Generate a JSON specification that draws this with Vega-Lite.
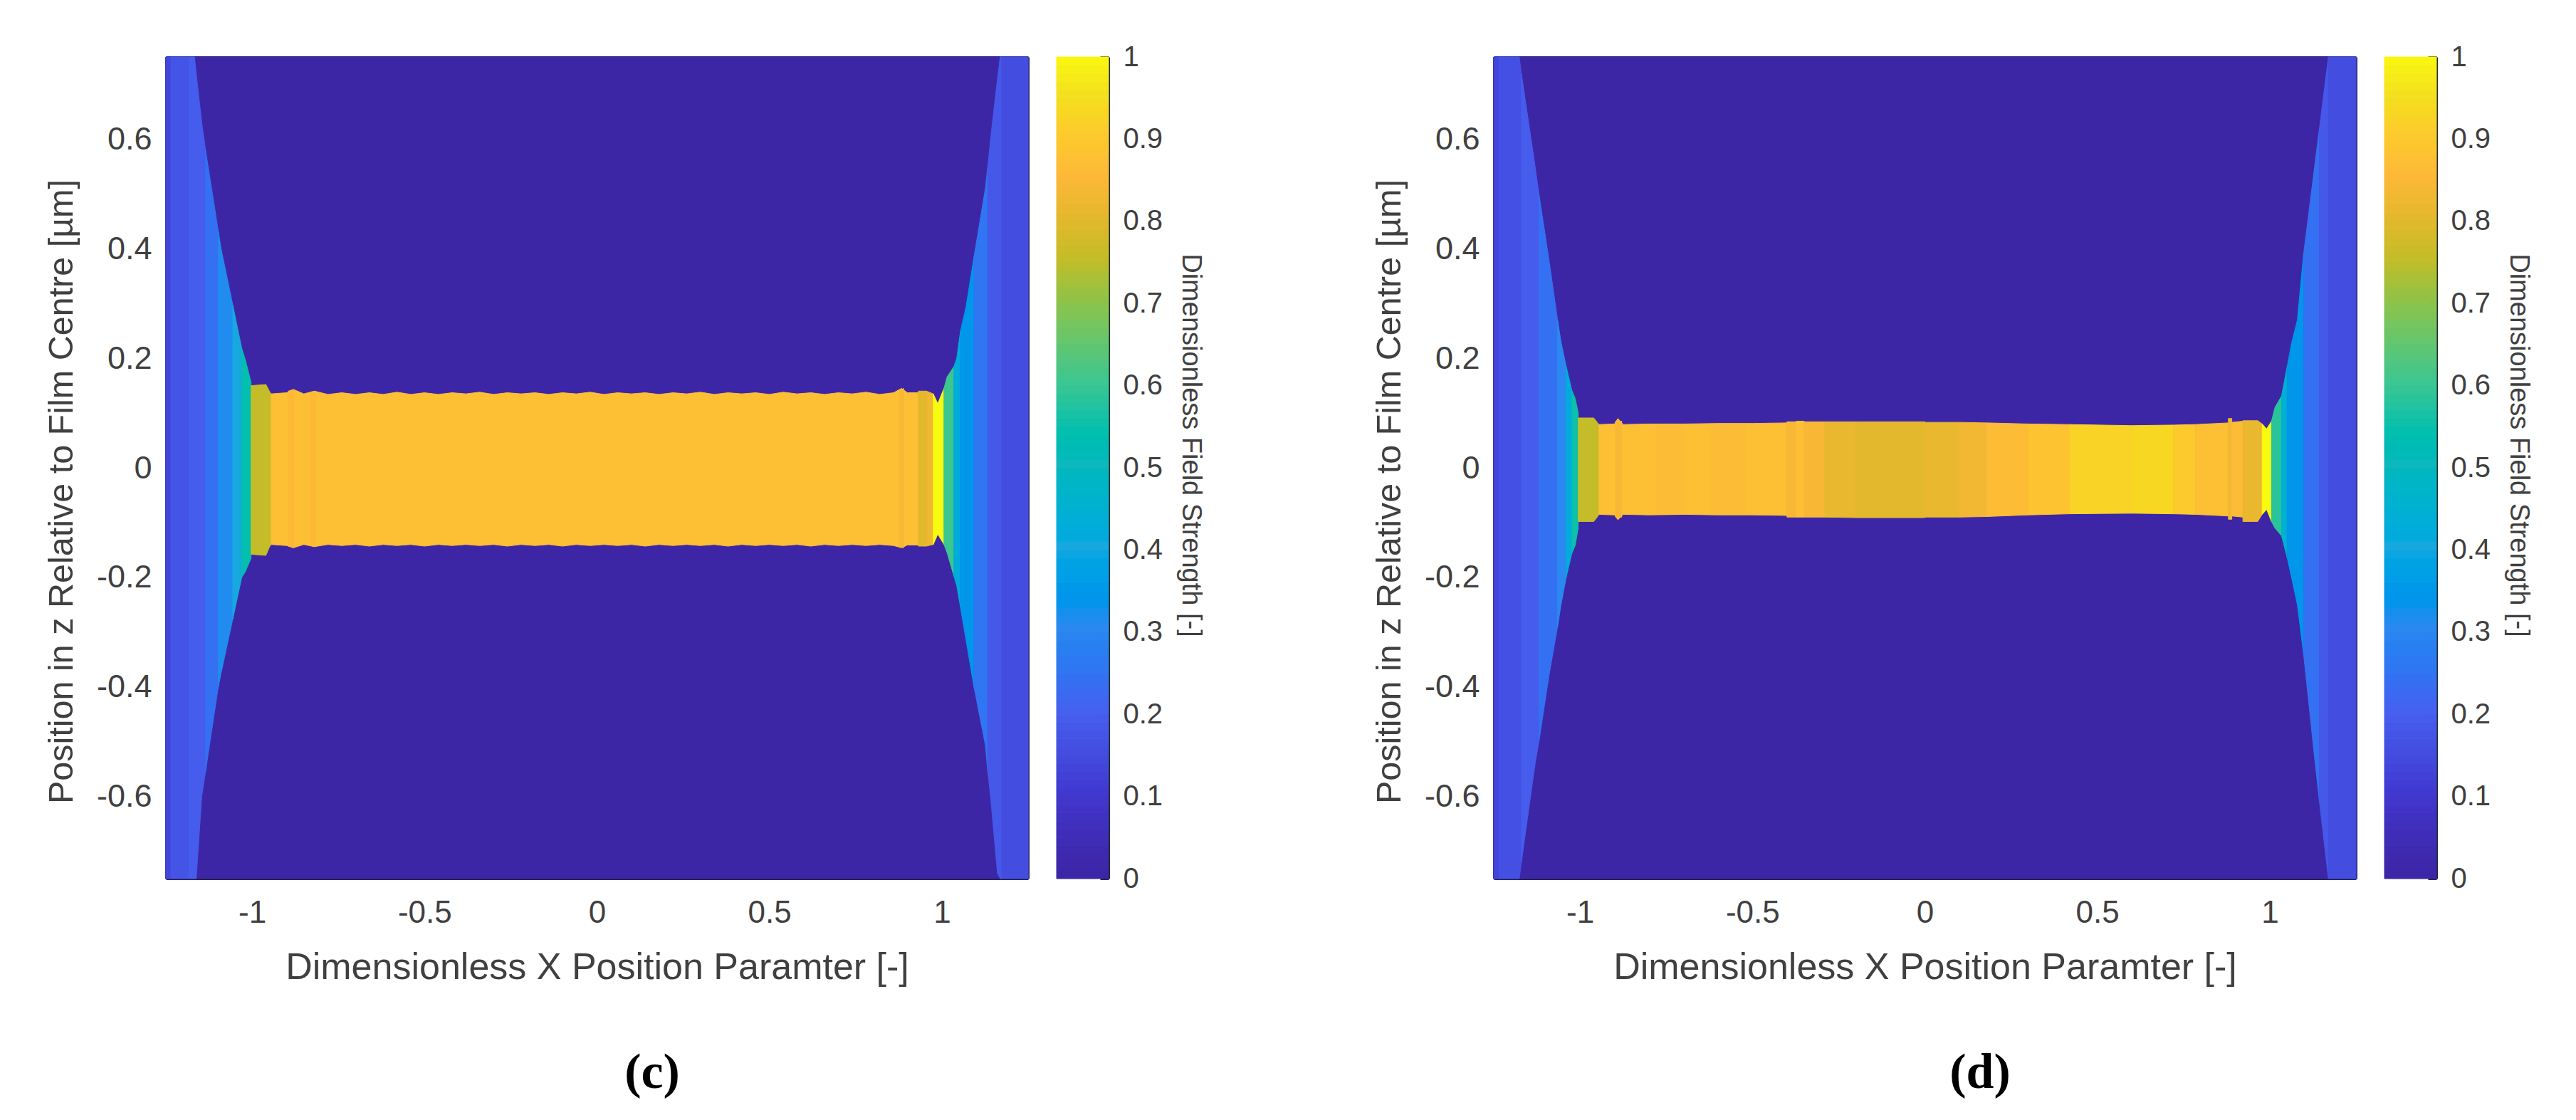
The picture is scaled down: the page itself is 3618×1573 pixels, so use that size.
{"$schema":"https://vega.github.io/schema/vega-lite/v6.json","background":"white","padding":{"left":62,"top":60,"right":10,"bottom":10},"autosize":{"type":"pad"},"config":{"view":{"stroke":null},"font":"Liberation Sans","axis":{"grid":false,"labelFont":"Liberation Sans","titleFont":"Liberation Sans","labelColor":"#404040","titleColor":"#404040","titleFontWeight":"normal","tickColor":"#26234f","domainColor":"#26234f","domainWidth":3,"tickWidth":3,"zindex":1}},
"datasets":{
"c":[
{"b":0,"x":-1.25,"lo":-0.75,"hi":0.75,"v":0.0},{"b":0,"x":1.25,"lo":-0.75,"hi":0.75,"v":0.0},
{"b":1,"x":-1.25,"lo":-0.75,"hi":0.75,"v":0.13},{"b":1,"x":-1.236,"lo":-0.75,"hi":0.75,"v":0.13},
{"b":2,"x":-1.236,"lo":-0.75,"hi":0.75,"v":0.17},{"b":2,"x":-1.183,"lo":-0.75,"hi":0.75,"v":0.17},
{"b":3,"x":-1.183,"lo":-0.75,"hi":0.75,"v":0.19},{"b":3,"x":-1.167,"lo":-0.75,"hi":0.75,"v":0.19},{"b":3,"x":-1.162,"lo":-0.75,"hi":0.72,"v":0.19},{"b":3,"x":-1.146,"lo":-0.6,"hi":0.63,"v":0.19},{"b":3,"x":-1.135,"lo":-0.554,"hi":0.58,"v":0.19},
{"b":4,"x":-1.135,"lo":-0.554,"hi":0.58,"v":0.24},{"b":4,"x":-1.098,"lo":-0.4,"hi":0.432,"v":0.24},
{"b":5,"x":-1.098,"lo":-0.4,"hi":0.432,"v":0.31},{"b":5,"x":-1.09,"lo":-0.375,"hi":0.4,"v":0.31},{"b":5,"x":-1.056,"lo":-0.276,"hi":0.297,"v":0.31},
{"b":6,"x":-1.056,"lo":-0.276,"hi":0.297,"v":0.4},{"b":6,"x":-1.03,"lo":-0.2,"hi":0.218,"v":0.4},
{"b":7,"x":-1.03,"lo":-0.2,"hi":0.218,"v":0.54},{"b":7,"x":-1.02,"lo":-0.19,"hi":0.198,"v":0.54},{"b":7,"x":-1.003,"lo":-0.165,"hi":0.156,"v":0.54},
{"b":8,"x":-1.003,"lo":-0.158,"hi":0.15,"v":0.75},{"b":8,"x":-0.96,"lo":-0.16,"hi":0.152,"v":0.75},{"b":8,"x":-0.95,"lo":-0.145,"hi":0.14,"v":0.75},{"b":8,"x":-0.945,"lo":-0.14,"hi":0.135,"v":0.75},
{"b":9,"x":-0.945,"lo":-0.14,"hi":0.135,"v":0.87},{"b":9,"x":-0.9,"lo":-0.142,"hi":0.137,"v":0.87},{"b":9,"x":-0.88,"lo":-0.146,"hi":0.143,"v":0.87},{"b":9,"x":-0.85,"lo":-0.14,"hi":0.135,"v":0.87},{"b":9,"x":-0.82,"lo":-0.144,"hi":0.14,"v":0.87},{"b":9,"x":-0.78,"lo":-0.14,"hi":0.134,"v":0.87},{"b":9,"x":-0.74,"lo":-0.142,"hi":0.137,"v":0.87},{"b":9,"x":-0.7,"lo":-0.14,"hi":0.134,"v":0.87},{"b":9,"x":-0.66,"lo":-0.143,"hi":0.137,"v":0.87},{"b":9,"x":-0.62,"lo":-0.14,"hi":0.134,"v":0.87},{"b":9,"x":-0.58,"lo":-0.142,"hi":0.138,"v":0.87},{"b":9,"x":-0.54,"lo":-0.14,"hi":0.134,"v":0.87},{"b":9,"x":-0.5,"lo":-0.143,"hi":0.137,"v":0.87},{"b":9,"x":-0.46,"lo":-0.14,"hi":0.134,"v":0.87},{"b":9,"x":-0.42,"lo":-0.142,"hi":0.137,"v":0.87},{"b":9,"x":-0.38,"lo":-0.14,"hi":0.135,"v":0.87},{"b":9,"x":-0.34,"lo":-0.142,"hi":0.138,"v":0.87},{"b":9,"x":-0.3,"lo":-0.14,"hi":0.134,"v":0.87},{"b":9,"x":-0.26,"lo":-0.143,"hi":0.137,"v":0.87},{"b":9,"x":-0.22,"lo":-0.14,"hi":0.135,"v":0.87},{"b":9,"x":-0.18,"lo":-0.142,"hi":0.137,"v":0.87},{"b":9,"x":-0.14,"lo":-0.14,"hi":0.134,"v":0.87},{"b":9,"x":-0.1,"lo":-0.143,"hi":0.137,"v":0.87},{"b":9,"x":-0.06,"lo":-0.14,"hi":0.135,"v":0.87},{"b":9,"x":-0.02,"lo":-0.142,"hi":0.138,"v":0.87},{"b":9,"x":0.02,"lo":-0.14,"hi":0.134,"v":0.87},{"b":9,"x":0.06,"lo":-0.142,"hi":0.137,"v":0.87},{"b":9,"x":0.1,"lo":-0.14,"hi":0.135,"v":0.87},{"b":9,"x":0.14,"lo":-0.143,"hi":0.137,"v":0.87},{"b":9,"x":0.18,"lo":-0.14,"hi":0.134,"v":0.87},{"b":9,"x":0.22,"lo":-0.142,"hi":0.137,"v":0.87},{"b":9,"x":0.26,"lo":-0.14,"hi":0.135,"v":0.87},{"b":9,"x":0.3,"lo":-0.142,"hi":0.138,"v":0.87},{"b":9,"x":0.34,"lo":-0.14,"hi":0.134,"v":0.87},{"b":9,"x":0.38,"lo":-0.143,"hi":0.137,"v":0.87},{"b":9,"x":0.42,"lo":-0.14,"hi":0.135,"v":0.87},{"b":9,"x":0.46,"lo":-0.142,"hi":0.137,"v":0.87},{"b":9,"x":0.5,"lo":-0.14,"hi":0.134,"v":0.87},{"b":9,"x":0.54,"lo":-0.142,"hi":0.138,"v":0.87},{"b":9,"x":0.58,"lo":-0.14,"hi":0.135,"v":0.87},{"b":9,"x":0.62,"lo":-0.143,"hi":0.137,"v":0.87},{"b":9,"x":0.66,"lo":-0.14,"hi":0.134,"v":0.87},{"b":9,"x":0.7,"lo":-0.142,"hi":0.137,"v":0.87},{"b":9,"x":0.74,"lo":-0.14,"hi":0.135,"v":0.87},{"b":9,"x":0.78,"lo":-0.142,"hi":0.138,"v":0.87},{"b":9,"x":0.82,"lo":-0.14,"hi":0.134,"v":0.87},{"b":9,"x":0.86,"lo":-0.142,"hi":0.137,"v":0.87},{"b":9,"x":0.883,"lo":-0.146,"hi":0.145,"v":0.87},{"b":9,"x":0.9,"lo":-0.141,"hi":0.137,"v":0.87},{"b":9,"x":0.932,"lo":-0.141,"hi":0.137,"v":0.87},
{"b":10,"x":-0.895,"lo":-0.143,"hi":0.14,"v":0.85},{"b":10,"x":-0.88,"lo":-0.146,"hi":0.143,"v":0.85},
{"b":11,"x":-0.83,"lo":-0.142,"hi":0.137,"v":0.85},{"b":11,"x":-0.815,"lo":-0.144,"hi":0.14,"v":0.85},
{"b":12,"x":0.877,"lo":-0.144,"hi":0.14,"v":0.84},{"b":12,"x":0.889,"lo":-0.146,"hi":0.145,"v":0.84},
{"b":13,"x":0.932,"lo":-0.143,"hi":0.14,"v":0.8},{"b":13,"x":0.955,"lo":-0.143,"hi":0.14,"v":0.8},
{"b":14,"x":0.955,"lo":-0.143,"hi":0.14,"v":0.82},{"b":14,"x":0.975,"lo":-0.14,"hi":0.135,"v":0.82},
{"b":15,"x":0.975,"lo":-0.14,"hi":0.135,"v":1.0},{"b":15,"x":0.988,"lo":-0.121,"hi":0.117,"v":1.0},{"b":15,"x":1.006,"lo":-0.14,"hi":0.145,"v":1.0},
{"b":16,"x":1.006,"lo":-0.14,"hi":0.145,"v":0.6},{"b":16,"x":1.015,"lo":-0.155,"hi":0.166,"v":0.6},{"b":16,"x":1.035,"lo":-0.198,"hi":0.185,"v":0.6},
{"b":17,"x":1.035,"lo":-0.198,"hi":0.185,"v":0.42},{"b":17,"x":1.043,"lo":-0.215,"hi":0.2,"v":0.42},{"b":17,"x":1.054,"lo":-0.255,"hi":0.25,"v":0.42},
{"b":18,"x":1.054,"lo":-0.255,"hi":0.25,"v":0.34},{"b":18,"x":1.063,"lo":-0.289,"hi":0.275,"v":0.34},{"b":18,"x":1.07,"lo":-0.315,"hi":0.294,"v":0.34},{"b":18,"x":1.093,"lo":-0.4,"hi":0.385,"v":0.34},
{"b":19,"x":1.093,"lo":-0.4,"hi":0.385,"v":0.25},{"b":19,"x":1.126,"lo":-0.506,"hi":0.51,"v":0.25},{"b":19,"x":1.133,"lo":-0.555,"hi":0.55,"v":0.25},
{"b":20,"x":1.133,"lo":-0.555,"hi":0.55,"v":0.18},{"b":20,"x":1.141,"lo":-0.6,"hi":0.6,"v":0.18},{"b":20,"x":1.161,"lo":-0.74,"hi":0.71,"v":0.18},{"b":20,"x":1.169,"lo":-0.75,"hi":0.75,"v":0.18},{"b":20,"x":1.174,"lo":-0.75,"hi":0.75,"v":0.18},
{"b":21,"x":1.174,"lo":-0.75,"hi":0.75,"v":0.15},{"b":21,"x":1.25,"lo":-0.75,"hi":0.75,"v":0.15}
],
"d":[
{"b":0,"x":-1.25,"lo":-0.75,"hi":0.75,"v":0.0},{"b":0,"x":1.25,"lo":-0.75,"hi":0.75,"v":0.0},
{"b":1,"x":-1.25,"lo":-0.75,"hi":0.75,"v":0.13},{"b":1,"x":-1.234,"lo":-0.75,"hi":0.75,"v":0.13},
{"b":2,"x":-1.234,"lo":-0.75,"hi":0.75,"v":0.16},{"b":2,"x":-1.176,"lo":-0.75,"hi":0.75,"v":0.16},{"b":2,"x":-1.17,"lo":-0.72,"hi":0.72,"v":0.16},
{"b":3,"x":-1.17,"lo":-0.72,"hi":0.72,"v":0.19},{"b":3,"x":-1.13,"lo":-0.54,"hi":0.55,"v":0.19},{"b":3,"x":-1.119,"lo":-0.5,"hi":0.5,"v":0.19},
{"b":4,"x":-1.119,"lo":-0.5,"hi":0.5,"v":0.24},{"b":4,"x":-1.09,"lo":-0.38,"hi":0.38,"v":0.24},{"b":4,"x":-1.065,"lo":-0.29,"hi":0.27,"v":0.24},
{"b":5,"x":-1.065,"lo":-0.29,"hi":0.27,"v":0.3},{"b":5,"x":-1.055,"lo":-0.25,"hi":0.23,"v":0.3},{"b":5,"x":-1.04,"lo":-0.2,"hi":0.185,"v":0.3},
{"b":6,"x":-1.04,"lo":-0.2,"hi":0.185,"v":0.42},{"b":6,"x":-1.023,"lo":-0.155,"hi":0.14,"v":0.42},
{"b":7,"x":-1.023,"lo":-0.155,"hi":0.14,"v":0.55},{"b":7,"x":-1.014,"lo":-0.142,"hi":0.127,"v":0.55},{"b":7,"x":-1.005,"lo":-0.11,"hi":0.1,"v":0.55},
{"b":8,"x":-1.005,"lo":-0.098,"hi":0.091,"v":0.75},{"b":8,"x":-0.96,"lo":-0.098,"hi":0.091,"v":0.75},{"b":8,"x":-0.95,"lo":-0.09,"hi":0.083,"v":0.75},{"b":8,"x":-0.945,"lo":-0.085,"hi":0.079,"v":0.75},
{"b":9,"x":-0.945,"lo":-0.085,"hi":0.079,"v":0.87},{"b":9,"x":-0.9,"lo":-0.086,"hi":0.08,"v":0.87},{"b":9,"x":-0.89,"lo":-0.095,"hi":0.09,"v":0.87},{"b":9,"x":-0.875,"lo":-0.085,"hi":0.079,"v":0.87},{"b":9,"x":-0.8,"lo":-0.086,"hi":0.08,"v":0.87},{"b":9,"x":-0.7,"lo":-0.085,"hi":0.08,"v":0.87},{"b":9,"x":-0.6,"lo":-0.086,"hi":0.081,"v":0.87},{"b":9,"x":-0.5,"lo":-0.086,"hi":0.081,"v":0.87},{"b":9,"x":-0.4,"lo":-0.087,"hi":0.082,"v":0.87},
{"b":10,"x":-0.78,"lo":-0.085,"hi":0.079,"v":0.86},{"b":10,"x":-0.7,"lo":-0.085,"hi":0.08,"v":0.86},
{"b":11,"x":-0.62,"lo":-0.085,"hi":0.08,"v":0.86},{"b":11,"x":-0.52,"lo":-0.085,"hi":0.08,"v":0.86},
{"b":12,"x":-0.897,"lo":-0.09,"hi":0.085,"v":0.84},{"b":12,"x":-0.879,"lo":-0.09,"hi":0.085,"v":0.84},
{"b":13,"x":-0.4,"lo":-0.09,"hi":0.084,"v":0.84},{"b":13,"x":-0.373,"lo":-0.09,"hi":0.084,"v":0.84},
{"b":14,"x":-0.373,"lo":-0.09,"hi":0.085,"v":0.87},{"b":14,"x":-0.35,"lo":-0.09,"hi":0.085,"v":0.87},
{"b":15,"x":-0.35,"lo":-0.09,"hi":0.084,"v":0.84},{"b":15,"x":-0.29,"lo":-0.09,"hi":0.084,"v":0.84},
{"b":16,"x":-0.29,"lo":-0.09,"hi":0.084,"v":0.81},{"b":16,"x":-0.2,"lo":-0.091,"hi":0.084,"v":0.81},
{"b":17,"x":-0.2,"lo":-0.091,"hi":0.084,"v":0.8},{"b":17,"x":0.0,"lo":-0.091,"hi":0.084,"v":0.8},
{"b":18,"x":0.0,"lo":-0.09,"hi":0.083,"v":0.81},{"b":18,"x":0.1,"lo":-0.09,"hi":0.083,"v":0.81},
{"b":19,"x":0.1,"lo":-0.09,"hi":0.083,"v":0.83},{"b":19,"x":0.18,"lo":-0.089,"hi":0.082,"v":0.83},
{"b":20,"x":0.18,"lo":-0.089,"hi":0.082,"v":0.86},{"b":20,"x":0.3,"lo":-0.086,"hi":0.08,"v":0.86},
{"b":21,"x":0.3,"lo":-0.086,"hi":0.08,"v":0.88},{"b":21,"x":0.42,"lo":-0.084,"hi":0.079,"v":0.88},
{"b":22,"x":0.42,"lo":-0.084,"hi":0.079,"v":0.92},{"b":22,"x":0.6,"lo":-0.083,"hi":0.077,"v":0.92},
{"b":23,"x":0.6,"lo":-0.083,"hi":0.077,"v":0.93},{"b":23,"x":0.72,"lo":-0.084,"hi":0.078,"v":0.93},
{"b":24,"x":0.72,"lo":-0.084,"hi":0.078,"v":0.9},{"b":24,"x":0.784,"lo":-0.085,"hi":0.079,"v":0.9},
{"b":25,"x":0.784,"lo":-0.085,"hi":0.079,"v":0.87},{"b":25,"x":0.88,"lo":-0.088,"hi":0.082,"v":0.87},
{"b":26,"x":0.88,"lo":-0.094,"hi":0.09,"v":0.82},{"b":26,"x":0.89,"lo":-0.094,"hi":0.09,"v":0.82},
{"b":27,"x":0.89,"lo":-0.088,"hi":0.083,"v":0.86},{"b":27,"x":0.922,"lo":-0.09,"hi":0.085,"v":0.86},
{"b":28,"x":0.922,"lo":-0.098,"hi":0.086,"v":0.81},{"b":28,"x":0.965,"lo":-0.098,"hi":0.086,"v":0.81},{"b":28,"x":0.978,"lo":-0.085,"hi":0.08,"v":0.81},
{"b":29,"x":0.978,"lo":-0.085,"hi":0.08,"v":1.0},{"b":29,"x":0.991,"lo":-0.076,"hi":0.071,"v":1.0},{"b":29,"x":1.005,"lo":-0.098,"hi":0.085,"v":1.0},
{"b":30,"x":1.005,"lo":-0.098,"hi":0.085,"v":0.58},{"b":30,"x":1.015,"lo":-0.11,"hi":0.11,"v":0.58},{"b":30,"x":1.034,"lo":-0.124,"hi":0.131,"v":0.58},
{"b":31,"x":1.034,"lo":-0.124,"hi":0.131,"v":0.45},{"b":31,"x":1.05,"lo":-0.163,"hi":0.183,"v":0.45},
{"b":32,"x":1.05,"lo":-0.163,"hi":0.183,"v":0.34},{"b":32,"x":1.063,"lo":-0.2,"hi":0.227,"v":0.34},{"b":32,"x":1.08,"lo":-0.25,"hi":0.27,"v":0.34},{"b":32,"x":1.098,"lo":-0.34,"hi":0.39,"v":0.34},
{"b":33,"x":1.098,"lo":-0.34,"hi":0.39,"v":0.24},{"b":33,"x":1.13,"lo":-0.53,"hi":0.55,"v":0.24},{"b":33,"x":1.144,"lo":-0.61,"hi":0.62,"v":0.24},
{"b":34,"x":1.144,"lo":-0.61,"hi":0.62,"v":0.18},{"b":34,"x":1.17,"lo":-0.75,"hi":0.75,"v":0.18},
{"b":35,"x":1.17,"lo":-0.75,"hi":0.75,"v":0.15},{"b":35,"x":1.25,"lo":-0.75,"hi":0.75,"v":0.15}
],
"bar":[
{"a":0.0,"b":0.01},{"a":0.01,"b":0.02},{"a":0.02,"b":0.03},{"a":0.03,"b":0.04},{"a":0.04,"b":0.05},{"a":0.05,"b":0.06},{"a":0.06,"b":0.07},{"a":0.07,"b":0.08},{"a":0.08,"b":0.09},{"a":0.09,"b":0.1},{"a":0.1,"b":0.11},{"a":0.11,"b":0.12},{"a":0.12,"b":0.13},{"a":0.13,"b":0.14},{"a":0.14,"b":0.15},{"a":0.15,"b":0.16},{"a":0.16,"b":0.17},{"a":0.17,"b":0.18},{"a":0.18,"b":0.19},{"a":0.19,"b":0.2},{"a":0.2,"b":0.21},{"a":0.21,"b":0.22},{"a":0.22,"b":0.23},{"a":0.23,"b":0.24},{"a":0.24,"b":0.25},{"a":0.25,"b":0.26},{"a":0.26,"b":0.27},{"a":0.27,"b":0.28},{"a":0.28,"b":0.29},{"a":0.29,"b":0.3},{"a":0.3,"b":0.31},{"a":0.31,"b":0.32},{"a":0.32,"b":0.33},{"a":0.33,"b":0.34},{"a":0.34,"b":0.35},{"a":0.35,"b":0.36},{"a":0.36,"b":0.37},{"a":0.37,"b":0.38},{"a":0.38,"b":0.39},{"a":0.39,"b":0.4},{"a":0.4,"b":0.41},{"a":0.41,"b":0.42},{"a":0.42,"b":0.43},{"a":0.43,"b":0.44},{"a":0.44,"b":0.45},{"a":0.45,"b":0.46},{"a":0.46,"b":0.47},{"a":0.47,"b":0.48},{"a":0.48,"b":0.49},{"a":0.49,"b":0.5},{"a":0.5,"b":0.51},{"a":0.51,"b":0.52},{"a":0.52,"b":0.53},{"a":0.53,"b":0.54},{"a":0.54,"b":0.55},{"a":0.55,"b":0.56},{"a":0.56,"b":0.57},{"a":0.57,"b":0.58},{"a":0.58,"b":0.59},{"a":0.59,"b":0.6},{"a":0.6,"b":0.61},{"a":0.61,"b":0.62},{"a":0.62,"b":0.63},{"a":0.63,"b":0.64},{"a":0.64,"b":0.65},{"a":0.65,"b":0.66},{"a":0.66,"b":0.67},{"a":0.67,"b":0.68},{"a":0.68,"b":0.69},{"a":0.69,"b":0.7},{"a":0.7,"b":0.71},{"a":0.71,"b":0.72},{"a":0.72,"b":0.73},{"a":0.73,"b":0.74},{"a":0.74,"b":0.75},{"a":0.75,"b":0.76},{"a":0.76,"b":0.77},{"a":0.77,"b":0.78},{"a":0.78,"b":0.79},{"a":0.79,"b":0.8},{"a":0.8,"b":0.81},{"a":0.81,"b":0.82},{"a":0.82,"b":0.83},{"a":0.83,"b":0.84},{"a":0.84,"b":0.85},{"a":0.85,"b":0.86},{"a":0.86,"b":0.87},{"a":0.87,"b":0.88},{"a":0.88,"b":0.89},{"a":0.89,"b":0.9},{"a":0.9,"b":0.91},{"a":0.91,"b":0.92},{"a":0.92,"b":0.93},{"a":0.93,"b":0.94},{"a":0.94,"b":0.95},{"a":0.95,"b":0.96},{"a":0.96,"b":0.97},{"a":0.97,"b":0.98},{"a":0.98,"b":0.99},{"a":0.99,"b":1.0}
]},
"hconcat":[
{"width":1211,"height":1154,"layer":[
{"data":{"name":"c"},"mark":{"type":"area","orient":"vertical","strokeWidth":1},"encoding":{
"detail":{"field":"b"},
"x":{"field":"x","type":"quantitative","title":"Dimensionless X Position Paramter [-]","scale":{"domain":[-1.25,1.25],"nice":false,"zero":false},"axis":{"values":[-1,-0.5,0,0.5,1],"labelExpr":"''+datum.value","labelFontSize":44,"titleFontSize":52,"tickSize":-12,"labelPadding":38,"titlePadding":29}},
"y":{"field":"lo","type":"quantitative","title":"Position in z Relative to Film Centre [µm]","scale":{"domain":[-0.75,0.75],"nice":false,"zero":false},"axis":{"values":[-0.6,-0.4,-0.2,0,0.2,0.4,0.6],"labelExpr":"''+datum.value","labelFontSize":45,"titleFontSize":48.5,"tickSize":-12,"labelPadding":32,"titlePadding":24,"titleY":610}},
"y2":{"field":"hi"},
"color":{"field":"v","type":"quantitative","legend":null,"scale":{"domain":[0,0.05,0.1,0.2,0.3,0.4,0.5,0.6,0.7,0.75,0.8,0.85,0.9,0.95,1],"range":["#3d26a6","#3f2cb8","#4138d0","#4660f0","#2a88f0","#18a8e0","#0cb8bc","#3cc690","#90c248","#c4bc28","#e4b82c","#fdb838","#fcca2c","#f4e01e","#f8fa10"]}},
"stroke":{"field":"v","type":"quantitative","legend":null,"scale":{"domain":[0,0.05,0.1,0.2,0.3,0.4,0.5,0.6,0.7,0.75,0.8,0.85,0.9,0.95,1],"range":["#3d26a6","#3f2cb8","#4138d0","#4660f0","#2a88f0","#18a8e0","#0cb8bc","#3cc690","#90c248","#c4bc28","#e4b82c","#fdb838","#fcca2c","#f4e01e","#f8fa10"]}}}},
{"data":{"values":[{"x":0.16,"y":-1.105,"t":"(c)"}]},"mark":{"type":"text","font":"Liberation Serif","fontWeight":"bold","fontSize":70,"color":"#000000"},"encoding":{
"x":{"field":"x","type":"quantitative","scale":{"domain":[-1.25,1.25],"nice":false,"zero":false},"axis":{"orient":"top","values":[-1,-0.5,0,0.5,1],"labels":false,"title":null,"tickSize":-12}},
"y":{"field":"y","type":"quantitative","scale":{"domain":[-0.75,0.75],"nice":false,"zero":false},"axis":{"orient":"right","values":[-0.6,-0.4,-0.2,0,0.2,0.4,0.6],"labels":false,"title":null,"tickSize":-12}},
"text":{"field":"t"}}}
],"resolve":{"axis":{"x":"independent","y":"independent"}}},
{"width":73,"height":1154,"data":{"name":"bar"},"mark":{"type":"rect","strokeWidth":1},"encoding":{
"y":{"field":"a","type":"quantitative","title":"Dimensionless Field Strength [-]","scale":{"domain":[0,1],"nice":false,"zero":false},"axis":{"orient":"right","values":[0,0.1,0.2,0.3,0.4,0.5,0.6,0.7,0.8,0.9,1],"labelExpr":"''+datum.value","labelFontSize":40,"titleFontSize":38,"tickSize":-12,"labelPadding":32,"titlePadding":20,"titleY":545,"domainColor":"#1f2a2a"}},
"y2":{"field":"b"},
"color":{"field":"a","type":"quantitative","legend":null,"scale":{"domain":[0,0.05,0.1,0.2,0.3,0.4,0.5,0.6,0.7,0.75,0.8,0.85,0.9,0.95,1],"range":["#3d26a6","#3f2cb8","#4138d0","#4660f0","#2a88f0","#18a8e0","#0cb8bc","#3cc690","#90c248","#c4bc28","#e4b82c","#fdb838","#fcca2c","#f4e01e","#f8fa10"]}},
"stroke":{"field":"a","type":"quantitative","legend":null,"scale":{"domain":[0,0.05,0.1,0.2,0.3,0.4,0.5,0.6,0.7,0.75,0.8,0.85,0.9,0.95,1],"range":["#3d26a6","#3f2cb8","#4138d0","#4660f0","#2a88f0","#18a8e0","#0cb8bc","#3cc690","#90c248","#c4bc28","#e4b82c","#fdb838","#fcca2c","#f4e01e","#f8fa10"]}}}},
{"width":461,"height":1154,"data":{"values":[]},"mark":{"type":"rect"},"encoding":{}},
{"width":1211,"height":1154,"layer":[
{"data":{"name":"d"},"mark":{"type":"area","orient":"vertical","strokeWidth":1},"encoding":{
"detail":{"field":"b"},
"x":{"field":"x","type":"quantitative","title":"Dimensionless X Position Paramter [-]","scale":{"domain":[-1.25,1.25],"nice":false,"zero":false},"axis":{"values":[-1,-0.5,0,0.5,1],"labelExpr":"''+datum.value","labelFontSize":44,"titleFontSize":52,"tickSize":-12,"labelPadding":38,"titlePadding":29}},
"y":{"field":"lo","type":"quantitative","title":"Position in z Relative to Film Centre [µm]","scale":{"domain":[-0.75,0.75],"nice":false,"zero":false},"axis":{"values":[-0.6,-0.4,-0.2,0,0.2,0.4,0.6],"labelExpr":"''+datum.value","labelFontSize":45,"titleFontSize":48.5,"tickSize":-12,"labelPadding":32,"titlePadding":24,"titleY":610}},
"y2":{"field":"hi"},
"color":{"field":"v","type":"quantitative","legend":null,"scale":{"domain":[0,0.05,0.1,0.2,0.3,0.4,0.5,0.6,0.7,0.75,0.8,0.85,0.9,0.95,1],"range":["#3d26a6","#3f2cb8","#4138d0","#4660f0","#2a88f0","#18a8e0","#0cb8bc","#3cc690","#90c248","#c4bc28","#e4b82c","#fdb838","#fcca2c","#f4e01e","#f8fa10"]}},
"stroke":{"field":"v","type":"quantitative","legend":null,"scale":{"domain":[0,0.05,0.1,0.2,0.3,0.4,0.5,0.6,0.7,0.75,0.8,0.85,0.9,0.95,1],"range":["#3d26a6","#3f2cb8","#4138d0","#4660f0","#2a88f0","#18a8e0","#0cb8bc","#3cc690","#90c248","#c4bc28","#e4b82c","#fdb838","#fcca2c","#f4e01e","#f8fa10"]}}}},
{"data":{"values":[{"x":0.16,"y":-1.105,"t":"(d)"}]},"mark":{"type":"text","font":"Liberation Serif","fontWeight":"bold","fontSize":70,"color":"#000000"},"encoding":{
"x":{"field":"x","type":"quantitative","scale":{"domain":[-1.25,1.25],"nice":false,"zero":false},"axis":{"orient":"top","values":[-1,-0.5,0,0.5,1],"labels":false,"title":null,"tickSize":-12}},
"y":{"field":"y","type":"quantitative","scale":{"domain":[-0.75,0.75],"nice":false,"zero":false},"axis":{"orient":"right","values":[-0.6,-0.4,-0.2,0,0.2,0.4,0.6],"labels":false,"title":null,"tickSize":-12}},
"text":{"field":"t"}}}
],"resolve":{"axis":{"x":"independent","y":"independent"}}},
{"width":73,"height":1154,"data":{"name":"bar"},"mark":{"type":"rect","strokeWidth":1},"encoding":{
"y":{"field":"a","type":"quantitative","title":"Dimensionless Field Strength [-]","scale":{"domain":[0,1],"nice":false,"zero":false},"axis":{"orient":"right","values":[0,0.1,0.2,0.3,0.4,0.5,0.6,0.7,0.8,0.9,1],"labelExpr":"''+datum.value","labelFontSize":40,"titleFontSize":38,"tickSize":-12,"labelPadding":32,"titlePadding":20,"titleY":545,"domainColor":"#1f2a2a"}},
"y2":{"field":"b"},
"color":{"field":"a","type":"quantitative","legend":null,"scale":{"domain":[0,0.05,0.1,0.2,0.3,0.4,0.5,0.6,0.7,0.75,0.8,0.85,0.9,0.95,1],"range":["#3d26a6","#3f2cb8","#4138d0","#4660f0","#2a88f0","#18a8e0","#0cb8bc","#3cc690","#90c248","#c4bc28","#e4b82c","#fdb838","#fcca2c","#f4e01e","#f8fa10"]}},
"stroke":{"field":"a","type":"quantitative","legend":null,"scale":{"domain":[0,0.05,0.1,0.2,0.3,0.4,0.5,0.6,0.7,0.75,0.8,0.85,0.9,0.95,1],"range":["#3d26a6","#3f2cb8","#4138d0","#4660f0","#2a88f0","#18a8e0","#0cb8bc","#3cc690","#90c248","#c4bc28","#e4b82c","#fdb838","#fcca2c","#f4e01e","#f8fa10"]}}}}
],"spacing":40,"bounds":"flush"}
